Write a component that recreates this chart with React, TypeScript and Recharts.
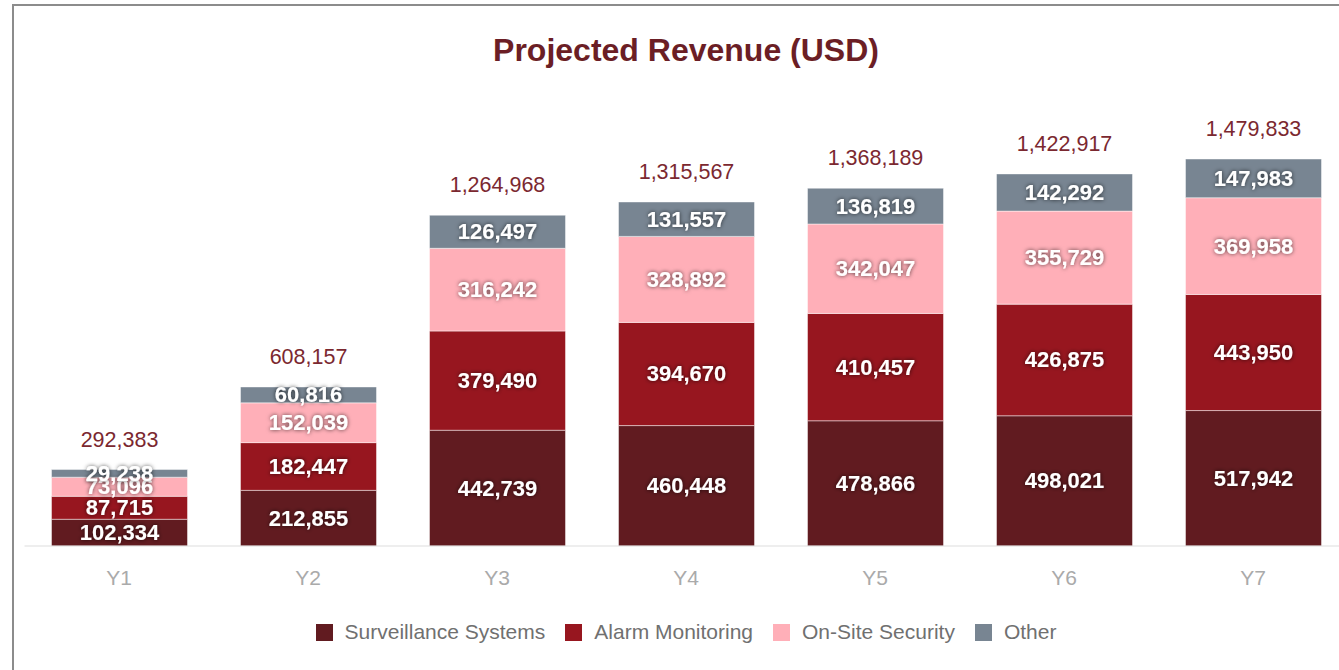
import React from "react";
import { BarChart, Bar, XAxis, YAxis, LabelList } from "recharts";

const categories = ["Y1", "Y2", "Y3", "Y4", "Y5", "Y6", "Y7"];
const surveillance = [102334, 212855, 442739, 460448, 478866, 498021, 517942];
const alarm = [87715, 182447, 379490, 394670, 410457, 426875, 443950];
const onSite = [73096, 152039, 316242, 328892, 342047, 355729, 369958];
const other = [29238, 60816, 126497, 131557, 136819, 142292, 147983];
const totals = [292383, 608157, 1264968, 1315567, 1368189, 1422917, 1479833];

const seriesNames = ["Surveillance Systems", "Alarm Monitoring", "On-Site Security", "Other"];
const seriesKeys = ["surveillance", "alarm", "onSite", "other"];
const seriesColors = ["#611b20", "#97161f", "#ffafb8", "#788592"];

const data = categories.map((c, i) => ({
  name: c,
  surveillance: surveillance[i],
  alarm: alarm[i],
  onSite: onSite[i],
  other: other[i],
  total: totals[i],
}));

const FONT = "'Liberation Sans', Arial, sans-serif";
const fmt = (v: number) => v.toLocaleString("en-US");

const segmentLabel = (props: any) => {
  const { x, y, width, height, value } = props;
  return (
    <text
      x={Number(x) + Number(width) / 2}
      y={Number(y) + Number(height) / 2}
      textAnchor="middle"
      dominantBaseline="central"
      fill="#ffffff"
      fontSize={22}
      fontWeight={700}
      fontFamily={FONT}
      filter="url(#txtShadow)"
    >
      {fmt(Number(value))}
    </text>
  );
};

const totalLabel = (props: any) => {
  const { x, y, width, value } = props;
  return (
    <text
      x={Number(x) + Number(width) / 2}
      y={Number(y) - 23}
      textAnchor="middle"
      fill="#7b2830"
      fontSize={21.5}
      fontFamily={FONT}
    >
      {fmt(Number(value))}
    </text>
  );
};

export default function App() {
  return (
    <div
      style={{
        position: "fixed",
        left: 0,
        top: 0,
        width: 1339,
        height: 670,
        overflow: "hidden",
        background: "#ffffff",
      }}
    >
      <div
        style={{
          position: "absolute",
          left: 12,
          top: 4,
          width: 1350,
          height: 700,
          border: "2px solid #8c8c8c",
          boxSizing: "border-box",
        }}
      />
      <div
        style={{
          position: "absolute",
          left: 0,
          width: 1372,
          top: 30,
          textAlign: "center",
          fontFamily: FONT,
          fontWeight: 700,
          fontSize: 32,
          color: "#6b1e25",
          lineHeight: "40px",
        }}
      >
        Projected Revenue (USD)
      </div>
      <div style={{ position: "absolute", left: 0, top: 0 }}>
        <BarChart
          width={1400}
          height={670}
          data={data}
          margin={{ top: 127.6, right: 52.5, left: 24.5, bottom: 94 }}
          barSize={136}
        >
          <defs>
            <filter id="txtShadow" x="-20%" y="-40%" width="140%" height="180%">
              <feDropShadow dx="0" dy="0" stdDeviation="2.2" floodColor="#000" floodOpacity="0.7" />
            </filter>
          </defs>
          <XAxis
            dataKey="name"
            axisLine={{ stroke: "#dddddd" }}
            tickLine={false}
            tick={{ fill: "#aaaaaa", fontSize: 21, fontFamily: FONT }}
            tickMargin={18}
            height={30}
          />
          <YAxis hide domain={[0, 1600000]} />
          {seriesKeys.map((k, i) => (
            <Bar
              key={k}
              dataKey={k}
              name={seriesNames[i]}
              stackId="a"
              fill={seriesColors[i]}
              stroke="rgba(255,255,255,0.45)"
              strokeWidth={1}
              isAnimationActive={false}
            >
              <LabelList dataKey={k} content={segmentLabel} />
              {i === seriesKeys.length - 1 ? (
                <LabelList dataKey="total" content={totalLabel} />
              ) : null}
            </Bar>
          ))}
        </BarChart>
      </div>
      <div
        style={{
          position: "absolute",
          left: 0,
          width: 1372,
          top: 620,
          display: "flex",
          justifyContent: "center",
          alignItems: "center",
          fontFamily: FONT,
          fontSize: 21,
          color: "#707070",
        }}
      >
        {seriesNames.map((n, i) => (
          <div key={n} style={{ display: "flex", alignItems: "center", marginRight: i < seriesNames.length - 1 ? 20 : 0 }}>
            <span
              style={{
                display: "inline-block",
                width: 17,
                height: 17,
                background: seriesColors[i],
                marginRight: 12,
              }}
            />
            <span>{n}</span>
          </div>
        ))}
      </div>
    </div>
  );
}
